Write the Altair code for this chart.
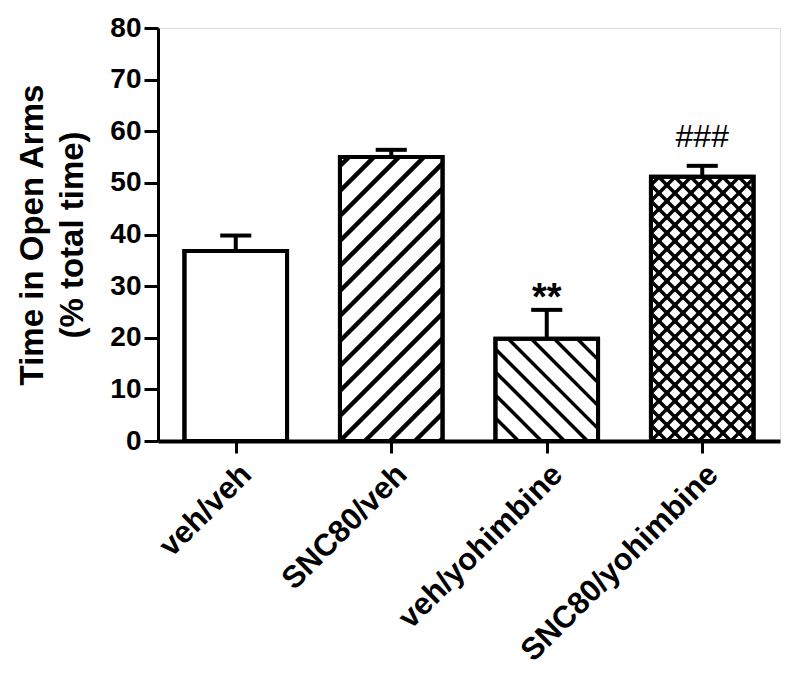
import json
import altair as alt
import pandas as pd

# ---- data ----
groups = ["veh/veh", "SNC80/veh", "veh/yohimbine", "SNC80/yohimbine"]
means = [36.8, 55.0, 19.8, 51.2]
sems = [3.0, 1.4, 5.6, 2.1]
marks = ["", "", "**", "###"]
hatches = ["none", "/", "\\", "x"]

# ---- layout / style ----
W, H = 622, 413
YMAX = 80
PX = W / 4.0
PY = H / YMAX
HALF = 0.33
CAP = 0.1
FONT = "Liberation Sans"
SPACING = {"/": 25.0, "\\": 23.0, "x": 16.0}
Y_TITLE = ["Time in Open Arms", "(% total time)"]

df = pd.DataFrame({
    "pos": list(range(len(groups))),
    "group": groups,
    "mean": means,
    "sem": sems,
    "mark": marks,
})
df["left"] = df["pos"] - HALF
df["right"] = df["pos"] + HALF
df["top"] = df["mean"] + df["sem"]
df["capl"] = df["pos"] - CAP
df["capr"] = df["pos"] + CAP
df["zero"] = 0.0


def family(i, direction, s):
    """hatch segments clipped to bar i (pixel space -> data)."""
    X0 = (i - HALF + 0.5) * PX
    X1 = (i + HALF + 0.5) * PX
    Y0, Y1 = 0.0, means[i] * PY
    out = []
    if direction == "/":
        c = -X0 - s * int((X1 - Y0) / s + 2)
        while c <= Y1 - X0 + s:
            xa, xb = max(X0, Y0 - c), min(X1, Y1 - c)
            if xa < xb:
                out.append((xa, xa + c, xb, xb + c))
            c += s
    else:
        c = X0 - s * 2
        while c <= X1 + Y1 + s:
            xa, xb = max(X0, c - Y1), min(X1, c - Y0)
            if xa < xb:
                out.append((xa, c - xa, xb, c - xb))
            c += s
    return out


rows = []
for i, h in enumerate(hatches):
    if h == "none":
        continue
    dirs = ["/", "\\"] if h == "x" else [h]
    for d in dirs:
        for (xa, ya, xb, yb) in family(i, d, SPACING[h]):
            rows.append({"kind": h, "x": xa / PX - 0.5, "y": ya / PY,
                         "x2": xb / PX - 0.5, "y2": yb / PY})
hdf = pd.DataFrame(rows)

xscale = alt.Scale(domain=[-0.5, 3.5], nice=False, zero=False)
yscale = alt.Scale(domain=[0, YMAX], nice=False)
label_expr = json.dumps(groups) + "[datum.value]"

X_AXIS = alt.Axis(
    values=[0, 1, 2, 3], labelExpr=label_expr, title="", grid=False,
    labelAngle=-45, labelAlign="right", labelBaseline="top",
    labelFont=FONT, labelFontSize=31, labelFontWeight="bold",
    labelColor="black", labelPadding=6, labelLimit=500, labelOverlap=False,
    tickSize=12, tickWidth=3, tickColor="black", domainColor="black",
    domainWidth=4)
Y_AXIS = alt.Axis(
    values=list(range(0, 81, 10)), grid=False, title=Y_TITLE,
    titleFont=FONT, titleFontSize=33, titleFontWeight="bold",
    titleColor="black", titleLineHeight=40, titlePadding=20,
    labelFont=FONT, labelFontSize=28, labelFontWeight="bold",
    labelColor="black", labelPadding=3, labelOverlap=False, tickSize=14,
    tickWidth=3, tickColor="black", domainColor="black", domainWidth=3)


def X(field):
    return alt.X(field, type="quantitative", scale=xscale, axis=X_AXIS, title="")


def Y(field):
    return alt.Y(field, type="quantitative", scale=yscale, axis=Y_AXIS, title=Y_TITLE)


base = alt.Chart(df)

bars = base.mark_rect(fill="white", stroke="black", strokeWidth=4).encode(
    x=X("left"), x2="right", y=Y("zero"), y2="mean")


def hatch_layer(kind, width):
    return alt.Chart(hdf).transform_filter(
        alt.datum.kind == kind
    ).mark_rule(color="black", strokeWidth=width).encode(
        x=X("x"), x2="x2", y=Y("y"), y2="y2")


outline = base.mark_rect(fillOpacity=0, stroke="black", strokeWidth=4).encode(
    x=X("left"), x2="right", y=Y("zero"), y2="mean")

stem = base.mark_rule(color="black", strokeWidth=4).encode(
    x=X("pos"), y=Y("mean"), y2="top")
cap = base.mark_rule(color="black", strokeWidth=4).encode(
    x=X("capl"), x2="capr", y=Y("top"))

stars = base.transform_filter(alt.datum.mark == "**").mark_text(
    font=FONT, fontSize=38, fontWeight="bold", color="black",
    baseline="alphabetic", dy=0).encode(
    x=X("pos"), y=Y("top"), text="mark:N")
hashes = base.transform_filter(alt.datum.mark == "###").mark_text(
    font=FONT, fontSize=32, fontWeight="normal", color="black",
    baseline="alphabetic", dy=-19).encode(
    x=X("pos"), y=Y("top"), text="mark:N")

chart = alt.layer(
    bars,
    hatch_layer("/", 4.5),
    hatch_layer("\\", 3.5),
    hatch_layer("x", 3.5),
    outline, stem, cap, stars, hashes,
).properties(
    width=W, height=H,
    autosize=alt.AutoSizeParams(type="none"),
    padding={"left": 150, "top": 20, "right": 12, "bottom": 240},
).configure_view(stroke="transparent").configure(background="white")

chart.save("out.html", embed_options={"renderer": "svg", "actions": False})
